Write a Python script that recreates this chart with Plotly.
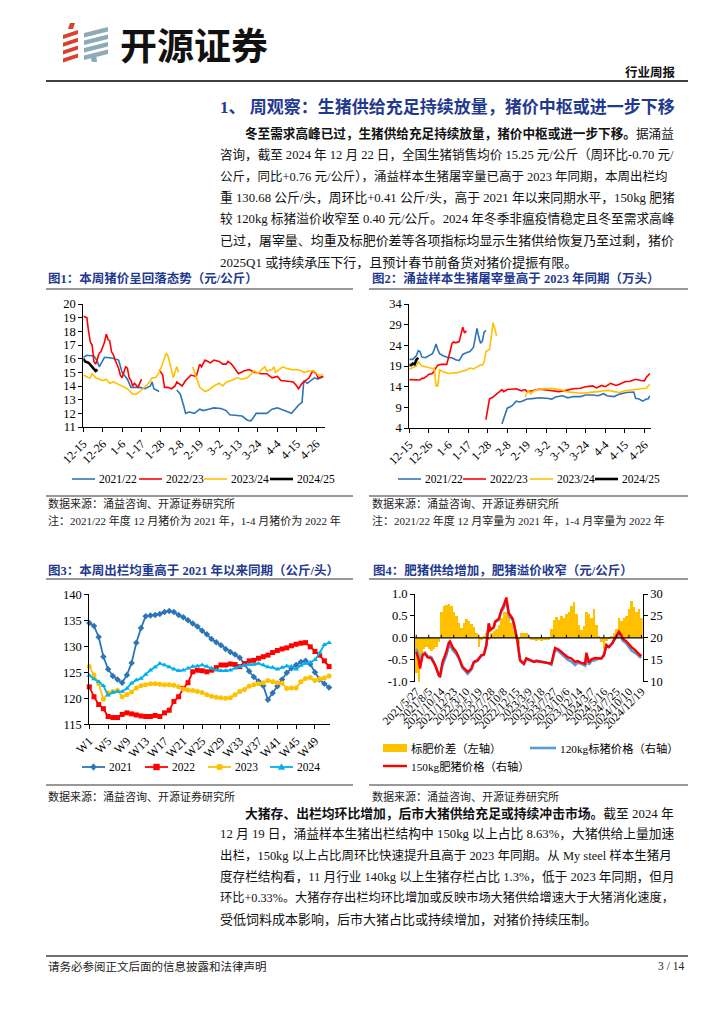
import re
import plotly.graph_objects as go

# ---------------- data ----------------
price_tick_days = [0, 11, 22, 33, 44, 55, 66, 77, 88, 99, 110, 121, 132]
price_tick_labels = ["12-15", "12-26", "1-6", "1-17", "1-28", "2-8", "2-19",
                     "3-2", "3-13", "3-24", "4-4", "4-15", "4-26"]
season_names = ["2021/22", "2022/23", "2023/24", "2024/25"]

# Fig 1: pig price (yuan/kg), day offset from 12-15
price_2122_day = [0,2,6,8,9,10,12,16,19,20,22,25,27,32,35,38,39,40,43,48,53,55,57,58,60,63,66,68,71,74,
                  78,81,83,86,90,93,95,96,98,104,107,110,112,115,118,120,122,124,125,127,129,131,133,136]
price_2122 = [16.1,16.25,16.2,15.8,15.4,15.6,16.1,16.05,15.95,15.9,15.0,14.5,13.9,13.9,13.8,14.0,14.3,13.8,13.6,None,
              13.7,13.4,12.5,12.0,12.1,12.0,12.3,12.2,12.3,12.4,12.35,12.2,11.9,11.85,11.8,11.5,11.45,11.6,12.0,12.0,
              12.3,12.4,12.3,12.1,12.0,12.3,12.6,12.8,14.4,14.2,14.4,14.6,14.5,14.7]
price_2223_day = [0,2,3,4,5,6,7,8,9,10,12,13,14,15,16,17,18,20,21,22,23,24,25,26,27,28,29,31,33,38,
                  43,45,46,48,50,52,53,56,58,61,64,66,67,69,72,74,77,79,81,82,84,86,88,91,94,97,101,104,107,110,
                  112,116,119,121,122,124,126,128,130,132,133,136]
price_2223 = [19.1,19.0,18.0,17.2,17.0,15.8,15.6,16.0,16.4,16.5,17.2,17.8,17.4,17.3,16.5,16.3,15.9,15.3,14.8,14.6,
              15.0,15.4,15.3,14.6,14.4,14.0,14.2,13.9,14.5,None,15.2,14.8,13.9,13.9,13.8,14.0,14.3,14.0,14.4,14.8,
              14.7,15.6,15.4,15.9,15.7,15.9,15.8,15.6,15.6,15.8,15.6,15.2,14.9,15.1,15.2,15.0,14.9,14.9,14.6,14.7,
              14.4,14.35,14.3,14.0,13.8,14.2,14.4,14.6,15.1,14.9,14.6,14.7]
price_2324_day = [0,3,4,5,7,9,11,13,15,17,20,22,25,28,30,32,35,37,39,41,43,44,47,48,50,51,52,53,54,58,
                  62,63,65,66,69,71,74,77,79,81,84,87,90,93,96,97,99,101,103,104,107,108,109,111,113,115,118,121,124,125,
                  128,131,133,136]
price_2324 = [14.8,14.6,14.6,14.9,14.6,14.5,14.4,14.5,14.2,14.3,14.1,14.0,13.8,13.4,13.4,13.6,14.0,14.2,14.6,14.6,
              15.0,15.3,16.4,16.2,15.2,14.6,15.0,15.4,15.0,None,15.4,15.0,14.2,13.9,13.6,13.7,14.0,14.2,14.0,14.3,
              14.4,14.6,14.5,14.6,15.0,15.1,14.9,15.2,15.4,15.1,15.2,15.4,15.0,15.2,15.4,15.3,15.2,15.2,15.1,15.0,
              15.1,15.1,14.8,14.8]
price_2425_day = [0,1,3,4,5,7,8]
price_2425 = [16.0,15.8,15.7,15.5,15.4,15.1,15.2]

# Fig 2: slaughter volume (10k head)
slaughter_2122_day = [0,2,4,5,6,7,9,11,13,14,15,16,17,19,21,22,24,26,28,30,32,34,36,37,38,39,40,41,42,43,
                      48,52,54,55,57,58,60,62,64,66,69,73,77,80,82,86,89,92,96,99,103,106,109,111,115,118,122,125,126,127,
                      129,131,133,134,135]
slaughter_2122 = [20.6,20.6,21.5,22.7,22.5,21.2,21.0,21.5,22.0,23.0,24.3,23.0,22.0,21.5,21.2,21.0,21.0,20.5,20.3,21.8,
                  22.2,22.5,23.5,26.0,28.1,26.0,24.5,25.0,27.2,27.6,None,5.0,7.5,8.8,9.2,9.5,10.5,10.3,10.6,11.0,
                  11.1,11.3,11.2,11.0,11.5,11.8,11.3,11.6,11.6,12.0,12.0,11.8,12.3,11.8,11.6,12.2,12.6,12.8,12.7,11.2,
                  11.0,10.5,11.0,11.0,11.8]
slaughter_2223_day = [0,6,7,8,10,11,13,15,16,18,21,22,23,24,25,26,28,30,31,32,37,43,44,45,47,50,52,53,55,60,
                      63,65,66,69,73,77,81,84,88,92,96,99,103,105,108,110,113,116,118,121,124,127,130,132,133,135]
slaughter_2223 = [15.7,15.6,16.0,16.0,16.6,17.0,17.2,18.5,19.2,19.4,19.4,21.0,23.0,24.5,24.8,24.6,24.9,28.4,27.0,27.5,
                  None,6.0,8.5,11.0,11.5,12.5,13.3,12.8,13.3,13.5,13.0,13.3,12.8,13.0,13.4,13.2,13.0,12.8,13.1,13.5,
                  13.6,14.0,14.2,13.7,14.3,14.0,14.8,14.3,14.6,15.2,15.3,15.8,15.5,15.4,16.2,17.2]
slaughter_2324_day = [0,2,4,5,6,7,9,11,13,14,15,16,17,18,20,22,24,27,30,32,34,36,38,40,41,42,43,45,46,47,
                      48,49,56,65,66,67,68,70,73,77,80,82,85,88,92,96,99,103,106,109,112,115,118,121,124,127,130,133,134,135]
slaughter_2324 = [18.2,18.6,19.0,20.0,19.4,19.0,18.8,18.6,18.4,18.5,14.2,14.2,18.2,17.8,17.4,17.2,17.3,17.4,17.8,18.0,
                  18.5,18.3,18.8,19.3,19.2,20.0,22.5,23.0,26.0,29.5,28.0,26.3,None,11.5,12.5,13.0,12.3,13.0,13.4,13.5,
                  13.6,13.4,13.3,12.8,12.6,12.4,12.5,12.6,12.8,13.0,13.1,12.8,12.6,13.0,13.2,13.3,13.5,13.6,14.0,14.6]
slaughter_2425_day = [0,1,2,3,4,5]
slaughter_2425 = [19.2,19.2,19.6,19.4,20.5,21.0]

# Fig 3: average slaughter weight (kg/head), weeks W1..W52
week_tick_vals = [1, 5, 9, 13, 17, 21, 25, 29, 33, 37, 41, 45, 49]
week_tick_labels = ["W1", "W5", "W9", "W13", "W17", "W21", "W25", "W29", "W33", "W37", "W41", "W45", "W49"]
year_names = ["2021", "2022", "2023", "2024"]
weight_2021 = [134.5,133.9,131.8,128.0,125.6,124.3,123.6,123.0,124.5,126.8,130.7,133.5,135.8,135.9,136.0,136.2,136.6,136.8,136.6,136.0,
               135.6,135.0,134.4,133.8,133.0,132.3,131.4,130.8,130.2,129.5,128.9,128.4,127.8,126.6,125.2,124.1,123.3,122.4,119.7,121.0,
               122.3,123.6,124.9,125.8,126.4,127.0,127.2,126.6,125.0,123.6,122.8,122.1]
weight_2022 = [122.2,120.3,118.8,118.0,116.5,116.3,116.3,116.9,117.2,117.0,116.8,116.6,116.5,116.5,116.7,116.5,117.2,117.7,119.4,120.3,
               121.9,123.0,125.1,125.4,125.3,125.1,125.4,125.9,126.4,126.4,126.6,126.5,126.1,126.7,127.2,127.3,127.7,128.0,128.3,128.8,
               129.2,129.5,129.7,130.1,130.4,130.6,130.7,129.9,129.0,128.3,127.2,126.1]
weight_2023 = [126.1,124.5,122.8,119.8,121.0,121.3,121.5,120.3,120.7,121.2,122.0,122.4,122.6,122.8,122.8,122.7,122.6,122.6,122.5,122.2,
               121.8,121.6,121.5,121.3,121.1,120.7,120.4,120.2,120.1,120.0,120.1,120.7,121.3,121.7,122.3,122.6,122.8,123.0,123.4,123.2,
               123.0,122.9,121.9,122.0,122.0,123.2,123.8,124.0,123.4,123.7,123.9,124.3]
weight_2024 = [124.4,123.7,123.2,122.4,120.6,121.1,121.3,121.3,121.9,122.9,123.5,123.8,124.6,125.4,126.0,126.7,126.4,126.0,125.6,125.3,
               125.4,125.8,126.1,126.2,126.4,126.1,125.8,125.4,125.3,125.3,125.4,125.8,126.1,126.4,126.5,126.5,126.7,126.4,126.0,125.9,
               125.6,125.9,126.2,126.1,125.6,126.3,126.7,126.9,127.4,128.7,130.3,130.7]

# Fig 4: fat/standard pig price spread (left) and prices (right), weekly index
spread_tick_labels = ["2021/5/27", "2021/8/5", "2021/10/14", "2021/12/23", "2022/3/10", "2022/5/19",
                      "2022/7/28", "2022/10/8", "2022/12/15", "2023/3/9", "2023/5/18", "2023/7/27",
                      "2023/10/6", "2023/12/14", "2024/3/7", "2024/5/16", "2024/7/25", "2024/10/10", "2024/12/19"]
spread_tick_idx = [0, 10, 20, 30, 40, 50, 60, 70, 80, 90, 100, 110, 120, 130, 140, 150, 160, 170, 180]
spread_idx = list(range(0, 181, 2))
spread = [-0.8,-1.0,-0.45,-0.25,-0.2,-0.25,-0.3,-0.25,-0.2,-0.1,
          0.6,0.72,0.75,0.78,0.72,0.58,0.5,0.35,0.22,0.35,
          0.42,0.38,0.32,0.25,0.12,-0.2,-0.05,0.05,0.1,-0.05,
          0.1,0.15,0.2,0.3,0.45,0.6,0.58,0.5,0.35,0.15,
          0.02,-0.15,0.1,0.12,0.1,0.05,-0.05,-0.06,-0.08,-0.05,
          -0.07,-0.06,-0.05,-0.04,0.2,0.4,0.48,0.4,0.5,0.45,
          0.55,0.6,0.72,0.82,0.55,0.3,0.18,0.28,0.6,0.55,
          0.45,0.65,0.3,0.05,-0.1,-0.25,-0.08,-0.02,0.05,0.1,
          0.2,0.45,0.38,0.45,0.5,0.65,0.85,0.7,0.6,0.65,
          0.45]
price_idx = [0,2,3,5,7,9,12,15,18,19,21,24,26,27,29,32,34,37,40,41,44,46,49,52,54,56,58,59,62,63,
             66,68,70,72,74,77,78,81,82,83,86,88,91,94,96,100,104,108,111,114,116,119,121,124,127,129,132,135,136,138,
             140,143,145,148,150,152,154,157,158,160,162,164,165,168,170,172,175,178,179,180]
fat_price = [16.8,14.9,13.0,16.0,16.4,15.6,15.3,13.8,11.5,11.3,14.5,16.8,18.9,19.2,17.9,16.8,15.6,13.4,12.6,12.2,
             13.0,14.5,14.9,16.0,16.2,18.3,23.3,21.8,22.5,23.7,24.4,26.3,27.5,29.2,25.6,24.4,23.3,19.1,16.8,14.9,
             14.1,15.3,14.9,14.5,14.7,14.5,14.4,14.1,17.7,17.3,16.8,16.0,15.6,15.3,14.5,14.7,14.3,14.1,16.6,14.4,
             15.1,15.4,15.3,15.3,16.0,18.3,17.9,18.9,19.5,20.4,21.4,20.6,19.8,19.2,18.5,17.9,17.2,16.4,16.0,16.2]
std_price = [17.5,15.8,13.7,16.3,16.6,15.8,15.6,14.0,11.6,11.0,13.8,16.0,18.1,18.5,17.3,16.3,15.3,13.1,12.2,11.8,
             12.7,14.3,14.8,16.0,16.1,18.2,23.3,21.7,22.3,23.5,24.1,25.9,26.9,28.6,25.1,24.1,23.1,19.1,16.9,14.8,
             14.0,15.2,14.9,14.6,14.8,14.6,14.4,13.9,17.3,16.9,16.3,15.5,15.0,14.6,13.8,14.3,14.1,13.7,16.0,13.9,
             14.7,14.9,15.2,15.4,16.2,18.4,17.9,18.8,19.4,20.2,21.0,20.2,19.4,18.7,17.9,17.1,16.6,15.8,15.6,15.8]
spread_series_names = ["标肥价差（左轴）", "120kg标猪价格（右轴）", "150kg肥猪价格（右轴）"]

# ---------------- helpers ----------------
# the page body has an 8px default margin: work in window pixels and compensate
OFF = 8
W, H = 724 - OFF, 1024 - OFF
def X(p): return (p - OFF) / W
def Y(p): return 1 - (p - OFF) / H

SERIF = "Liberation Serif, Noto Sans CJK SC, serif"
CJK = "Noto Sans CJK SC, sans-serif"
NAVY = "#1F3A8F"
BLUE = "#2E75B6"; RED = "#FF0000"; ORANGE = "#FFC000"; LBLUE = "#00B0F0"; BLK = "#000000"; SKY = "#5B9BD5"
season_colors = [BLUE, RED, ORANGE, BLK]
season_widths = [1.6, 1.6, 1.6, 2.6]
year_colors = [BLUE, RED, ORANGE, LBLUE]
year_symbols = ["diamond", "square", "circle", "triangle-up"]

fig = go.Figure()

# ---- Fig 1 ----
for nm, xs, ys, col, wd in zip(season_names,
                               [price_2122_day, price_2223_day, price_2324_day, price_2425_day],
                               [price_2122, price_2223, price_2324, price_2425], season_colors, season_widths):
    fig.add_trace(go.Scatter(x=xs, y=ys, mode="lines", name=nm, line=dict(color=col, width=wd),
                             connectgaps=False, xaxis="x", yaxis="y", showlegend=False, hoverinfo="skip"))
# ---- Fig 2 ----
for nm, xs, ys, col, wd in zip(season_names,
                               [slaughter_2122_day, slaughter_2223_day, slaughter_2324_day, slaughter_2425_day],
                               [slaughter_2122, slaughter_2223, slaughter_2324, slaughter_2425], season_colors, season_widths):
    fig.add_trace(go.Scatter(x=xs, y=ys, mode="lines", name=nm, line=dict(color=col, width=wd),
                             connectgaps=False, xaxis="x2", yaxis="y2", showlegend=False, hoverinfo="skip"))
# ---- Fig 3 ----
weeks = list(range(1, len(weight_2021) + 1))
for nm, ys, col, sym in zip(year_names, [weight_2021, weight_2022, weight_2023, weight_2024], year_colors, year_symbols):
    fig.add_trace(go.Scatter(x=weeks, y=ys, mode="lines+markers", name=nm,
                             line=dict(color=col, width=1.8), marker=dict(symbol=sym, size=5, color=col),
                             xaxis="x3", yaxis="y3", showlegend=False, cliponaxis=False, hoverinfo="skip"))
# ---- Fig 4 ----
fig.add_trace(go.Bar(x=spread_idx, y=spread, width=2, name=spread_series_names[0],
                     marker=dict(color=ORANGE, line=dict(width=0)),
                     xaxis="x4", yaxis="y4", showlegend=False, hoverinfo="skip"))
fig.add_trace(go.Scatter(x=price_idx, y=std_price, mode="lines", name=spread_series_names[1],
                         line=dict(color=SKY, width=2.6), xaxis="x4", yaxis="y5", showlegend=False,
                         hoverinfo="skip"))
fig.add_trace(go.Scatter(x=price_idx, y=fat_price, mode="lines", name=spread_series_names[2],
                         line=dict(color=RED, width=2.4), xaxis="x4", yaxis="y5", showlegend=False,
                         hoverinfo="skip"))

ax = dict(showline=True, linecolor="black", linewidth=1, ticks="outside", ticklen=4, tickcolor="black",
          showgrid=False, zeroline=False, tickfont=dict(family=SERIF, size=12.5, color="black"))
xt = dict(ax, tickfont=dict(family=SERIF, size=12, color="black"), tickangle=-45)

fig.update_layout(
    width=W, height=H, margin=dict(l=0, r=0, t=0, b=0, autoexpand=False),
    paper_bgcolor="white", plot_bgcolor="white", showlegend=False,
    font=dict(family=SERIF, color="black"), bargap=0,
    xaxis=dict(xt, domain=[X(83.3), X(325)], range=[0, 137], anchor="y",
               tickmode="array", tickvals=price_tick_days, ticktext=price_tick_labels),
    yaxis=dict(ax, domain=[Y(427), Y(304)], range=[11, 20], dtick=1, anchor="x"),
    xaxis2=dict(xt, domain=[X(409.3), X(650.7)], range=[0, 135.5], anchor="y2",
                tickmode="array", tickvals=price_tick_days, ticktext=price_tick_labels),
    yaxis2=dict(ax, domain=[Y(428), Y(304)], range=[4, 34], tick0=4, dtick=5, anchor="x2"),
    xaxis3=dict(xt, domain=[X(89.3), X(330)], range=[1, 52.2], anchor="y3",
                tickmode="array", tickvals=week_tick_vals, ticktext=week_tick_labels),
    yaxis3=dict(ax, domain=[Y(724.3), Y(594.3)], range=[115, 140], dtick=5, anchor="x3"),
    xaxis4=dict(xt, domain=[X(415), X(642.7)], range=[-1, 181], anchor="y4", showline=False, ticks="",
                tickmode="array", tickvals=spread_tick_idx, ticktext=spread_tick_labels,
                tickfont=dict(family=SERIF, size=11.5, color="black")),
    yaxis4=dict(ax, domain=[Y(681.7), Y(594)], range=[-1, 1], anchor="x4", tickmode="array",
                tickvals=[-1, -0.5, 0, 0.5, 1], ticktext=["-1.0", "-0.5", "0.0", "0.5", "1.0"]),
    yaxis5=dict(ax, overlaying="y4", side="right", anchor="x4", range=[10, 30], dtick=5),
)

# ---------------- shapes ----------------
shapes = []
ann = []

def txt(x, y, s, size=13, color="#111111", anchor="left", family=SERIF):
    ann.append(dict(x=X(x), y=Y(y), xref="paper", yref="paper", text=s, showarrow=False,
                    xanchor=anchor, yanchor="middle", font=dict(family=family, size=size, color=color)))

def seg(x0, x1, y0, y1, color="black", width=1, ref=("paper", "paper"), layer="above"):
    shapes.append(dict(type="line", xref=ref[0], yref=ref[1], x0=x0, x1=x1, y0=y0, y1=y1,
                       line=dict(color=color, width=width), layer=layer))

def hline(y, x0, x1, color="black", width=1):
    seg(X(x0), X(x1), Y(y), Y(y), color, width)

def poly(pts, color):
    path = "M " + " L ".join(f"{X(a):.5f},{Y(b):.5f}" for a, b in pts) + " Z"
    shapes.append(dict(type="path", xref="paper", yref="paper", path=path,
                       fillcolor=color, line=dict(width=0)))

def marker_shape(cx, cy, sym, color, r=3.2):
    if sym == "circle":
        shapes.append(dict(type="circle", xref="paper", yref="paper", x0=X(cx - r), x1=X(cx + r),
                           y0=Y(cy + r), y1=Y(cy - r), fillcolor=color, line=dict(width=0)))
    elif sym == "square":
        poly([(cx - r, cy - r), (cx + r, cy - r), (cx + r, cy + r), (cx - r, cy + r)], color)
    elif sym == "diamond":
        poly([(cx, cy - r - 0.6), (cx + r, cy), (cx, cy + r + 0.6), (cx - r, cy)], color)
    else:
        poly([(cx, cy - r - 0.5), (cx + r + 0.5, cy + r - 0.5), (cx - r - 0.5, cy + r - 0.5)], color)

hline(81, 46, 688, "black", 1.6)
for yy in (289, 496, 579, 785):
    hline(yy, 46, 353, "#333333", 1)
    hline(yy, 369, 688, "#333333", 1)
hline(956, 46, 688, "#707070", 2)

# zero line + ticks of fig 4
seg(0, 1, 0, 0, "black", 1.4, ("x4 domain", "y4"))
for t in spread_tick_idx:
    seg(t, t, 0, 0.07, "black", 1, ("x4", "y4"))

# ---- legends (drawn under each chart, as in the reference) ----
LEG = 11.5
for names, colors, widths, starts, ly in [
        (season_names, season_colors, season_widths, [72, 139, 204, 270], 479),
        (season_names, season_colors, season_widths, [398, 463, 530, 595], 479)]:
    for nm, col, wd, x0 in zip(names, colors, widths, starts):
        hline(ly, x0, x0 + 23, col, wd)
        txt(x0 + 25, ly, nm, LEG, "black")
for nm, col, sym, x0 in zip(year_names, year_colors, year_symbols, [82, 145, 208, 270]):
    hline(767, x0, x0 + 23, col, 1.8)
    marker_shape(x0 + 11.5, 767, sym, col)
    txt(x0 + 25, 767, nm, LEG, "black")
poly([(383, 744), (407, 744), (407, 752), (383, 752)], ORANGE)
txt(409, 748, spread_series_names[0], 11.3, "black")
hline(748, 530, 556, SKY, 2.6)
txt(558, 748, spread_series_names[1], 11.3, "black")
hline(766, 383, 407, RED, 2.4)
txt(409, 766, spread_series_names[2], 11.3, "black")

# logo
poly([(70, 23), (75, 23), (73, 29), (68, 29)], "#D8412E")
for k in range(4):
    y0 = 30 + 7.8 * k
    poly([(63, y0 + 5), (78, y0), (78, y0 + 4), (63, y0 + 9)], "#D8412E")
for k in range(4):
    y0 = 27 + 7.5 * k
    poly([(84, y0 + 6), (108, y0), (108, y0 + 4.5), (84, y0 + 10.5)], "#8EA9B8")
poly([(90, 56), (96, 54), (97, 62), (92, 62)], "#8EA9B8")

fig.update_layout(shapes=shapes)

# ---------------- text ----------------
def em_width(s):
    s = re.sub(r"<[^>]+>", "", s)
    w = 0.0
    for ch in s:
        if ord(ch) > 0x2E80:
            w += 1.0
        elif ch == " ":
            w += 0.25
        elif ch.isdigit():
            w += 0.5
        elif ch in ".,":
            w += 0.25
        elif ch == "/":
            w += 0.28
        elif ch == "-":
            w += 0.33
        elif ch == "+":
            w += 0.56
        elif ch == "%":
            w += 0.83
        elif ch.isupper():
            w += 0.7
        else:
            w += 0.46
    return w

def para(lines, y0, step):
    for i, (x, s, full) in enumerate(lines):
        size = 13
        if full:
            size = max(12.0, min(13.4, (672 - x) / em_width(s)))
        txt(x, y0 + i * step, s, size)

txt(118, 44, "<b>开源证券</b>", 37, "#111111", family=CJK)
txt(678, 72, "<b>行业周报</b>", 12.5, "#111111", "right")
txt(218, 107, "<b>1、 周观察：生猪供给充足持续放量，猪价中枢或进一步下移</b>", 17, NAVY)

para([
    (243, "<b>冬至需求高峰已过，生猪供给充足持续放量，猪价中枢或进一步下移。</b>据涌益", True),
    (218, "咨询，截至 2024 年 12 月 22 日，全国生猪销售均价 15.25 元/公斤（周环比-0.70 元/", True),
    (218, "公斤，同比+0.76 元/公斤），涌益样本生猪屠宰量已高于 2023 年同期，本周出栏均", True),
    (218, "重 130.68 公斤/头，周环比+0.41 公斤/头，高于 2021 年以来同期水平，150kg 肥猪", True),
    (218, "较 120kg 标猪溢价收窄至 0.40 元/公斤。2024 年冬季非瘟疫情稳定且冬至需求高峰", True),
    (218, "已过，屠宰量、均重及标肥价差等各项指标均显示生猪供给恢复乃至过剩，猪价", True),
    (218, "2025Q1 或持续承压下行，且预计春节前备货对猪价提振有限。", False),
], 133, 21.5)

para([
    (243, "<b>大猪存、出栏均环比增加，后市大猪供给充足或持续冲击市场。</b>截至 2024 年", True),
    (218, "12 月 19 日，涌益样本生猪出栏结构中 150kg 以上占比 8.63%，大猪供给上量加速", True),
    (218, "出栏，150kg 以上占比周环比快速提升且高于 2023 年同期。从 My steel 样本生猪月", True),
    (218, "度存栏结构看，11 月行业 140kg 以上生猪存栏占比 1.3%，低于 2023 年同期，但月", True),
    (218, "环比+0.33%。大猪存存出栏均环比增加或反映市场大猪供给增速大于大猪消化速度，", True),
    (218, "受低饲料成本影响，后市大猪占比或持续增加，对猪价持续压制。", False),
], 813, 21.2)

txt(46, 278, "<b>图1：本周猪价呈回落态势（元/公斤）</b>", 12.5, NAVY)
txt(370, 278, "<b>图2：涌益样本生猪屠宰量高于 2023 年同期（万头）</b>", 12.5, NAVY)
txt(46, 570, "<b>图3：本周出栏均重高于 2021 年以来同期（公斤/头）</b>", 12.5, NAVY)
txt(371, 570, "<b>图4：肥猪供给增加，肥猪溢价收窄（元/公斤）</b>", 12.5, NAVY)

src = "数据来源：涌益咨询、开源证券研究所"
txt(46, 503, src, 11, "#222222")
txt(370, 503, src, 11, "#222222")
txt(46, 520, "注：2021/22 年度 12 月猪价为 2021 年，1-4 月猪价为 2022 年", 11, "#222222")
txt(370, 520, "注：2021/22 年度 12 月宰量为 2021 年，1-4 月宰量为 2022 年", 11, "#222222")
txt(46, 796, src, 11, "#222222")
txt(370, 796, src, 11, "#222222")

txt(46, 966, "请务必参阅正文后面的信息披露和法律声明", 11.5, "#222222")
txt(686, 966, "3 / 14", 11.5, "#222222", "right")

fig.update_layout(annotations=ann)

fig.write_html("out.html")
